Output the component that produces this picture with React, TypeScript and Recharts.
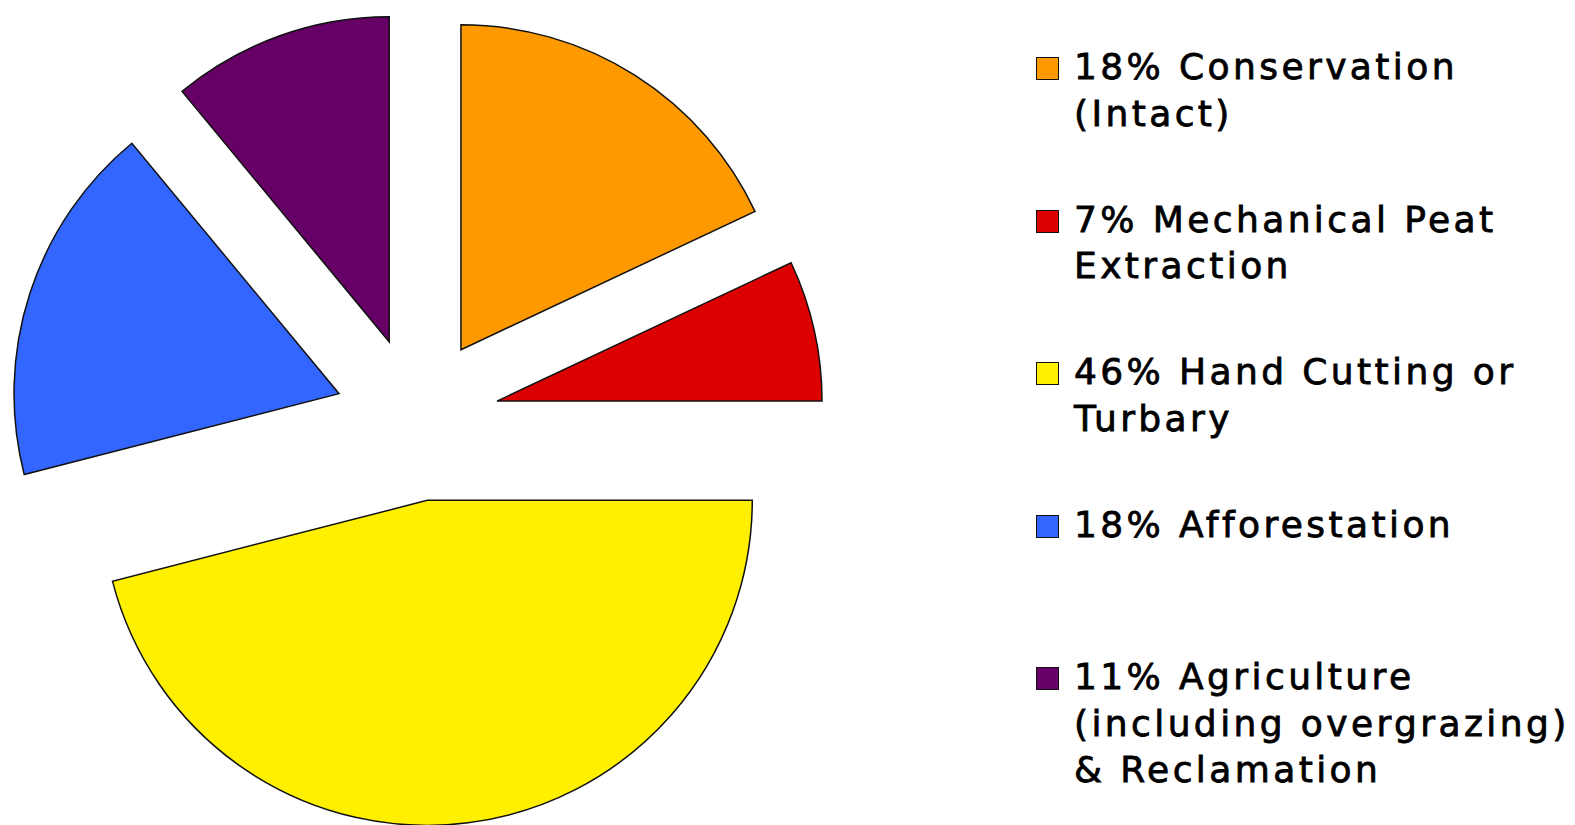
import { Cell, Legend, Pie, PieChart } from "recharts";

const categories = [
    "Conservation (Intact)",
    "Mechanical Peat Extraction",
    "Hand Cutting or Turbary",
    "Afforestation",
    "Agriculture (including overgrazing) & Reclamation",
];
const shares = [18, 7, 46, 18, 11];
const colors = ["#ff9900", "#dd0000", "#fff000", "#3366ff", "#660066"];
const legendLines = [
    ["18% Conservation", "(Intact)"],
    ["7% Mechanical Peat", "Extraction"],
    ["46% Hand Cutting or", "Turbary"],
    ["18% Afforestation"],
    ["11% Agriculture", "(including overgrazing)", "& Reclamation"],
];

const data = categories.map((name, i) => ({ name, value: shares[i] }));

const CENTER_X = 417;
const CENTER_Y = 419;
const RADIUS = 325;
const EXPLODE = 82;

const total = shares.reduce((a, b) => a + b, 0);
let acc = 0;
const midAngles = shares.map((v) => {
    const mid = 90 - ((acc + v / 2) / total) * 360;
    acc += v;
    return mid;
});

const renderLegend = () => (
    <div
        style={{
            fontFamily: "'DejaVu Sans', Verdana, sans-serif",
            fontSize: 36,
            color: "#000",
            letterSpacing: 3.4,
            WebkitTextStroke: "0.8px #000",
        }}
    >
        {legendLines.map((lines, i) => (
            <div key={categories[i]} style={{ position: "relative", height: 152.5, paddingLeft: 38 }}>
                <span
                    style={{
                        position: "absolute",
                        left: 0,
                        top: 13,
                        width: 21,
                        height: 21,
                        background: colors[i],
                        border: "1.5px solid #111",
                    }}
                />
                {lines.map((line) => (
                    <div key={line} style={{ lineHeight: "46.5px", whiteSpace: "nowrap" }}>
                        {line}
                    </div>
                ))}
            </div>
        ))}
    </div>
);

const App = () => {
    return (
        <div style={{ position: "absolute", left: 0, top: 0, width: 1575, height: 825, background: "#fff" }}>
            <PieChart width={1575} height={825} margin={{ top: 0, right: 0, bottom: 0, left: 0 }}>
                {midAngles.map((mid, i) => (
                    <Pie
                        key={categories[i]}
                        data={data}
                        dataKey="value"
                        nameKey="name"
                        cx={CENTER_X + EXPLODE * Math.cos((mid * Math.PI) / 180)}
                        cy={CENTER_Y - EXPLODE * Math.sin((mid * Math.PI) / 180)}
                        outerRadius={RADIUS}
                        startAngle={90}
                        endAngle={-270}
                        label={false}
                        labelLine={false}
                        isAnimationActive={false}
                        legendType="none"
                    >
                        {data.map((d, j) => (
                            <Cell
                                key={d.name}
                                fill={j === i ? colors[j] : "none"}
                                stroke={j === i ? "#111" : "none"}
                                strokeWidth={1.5}
                            />
                        ))}
                    </Pie>
                ))}
                <Legend
                    content={renderLegend}
                    wrapperStyle={{ position: "absolute", left: 1036, top: 44, width: 539 }}
                />
            </PieChart>
        </div>
    );
};

export default App;
